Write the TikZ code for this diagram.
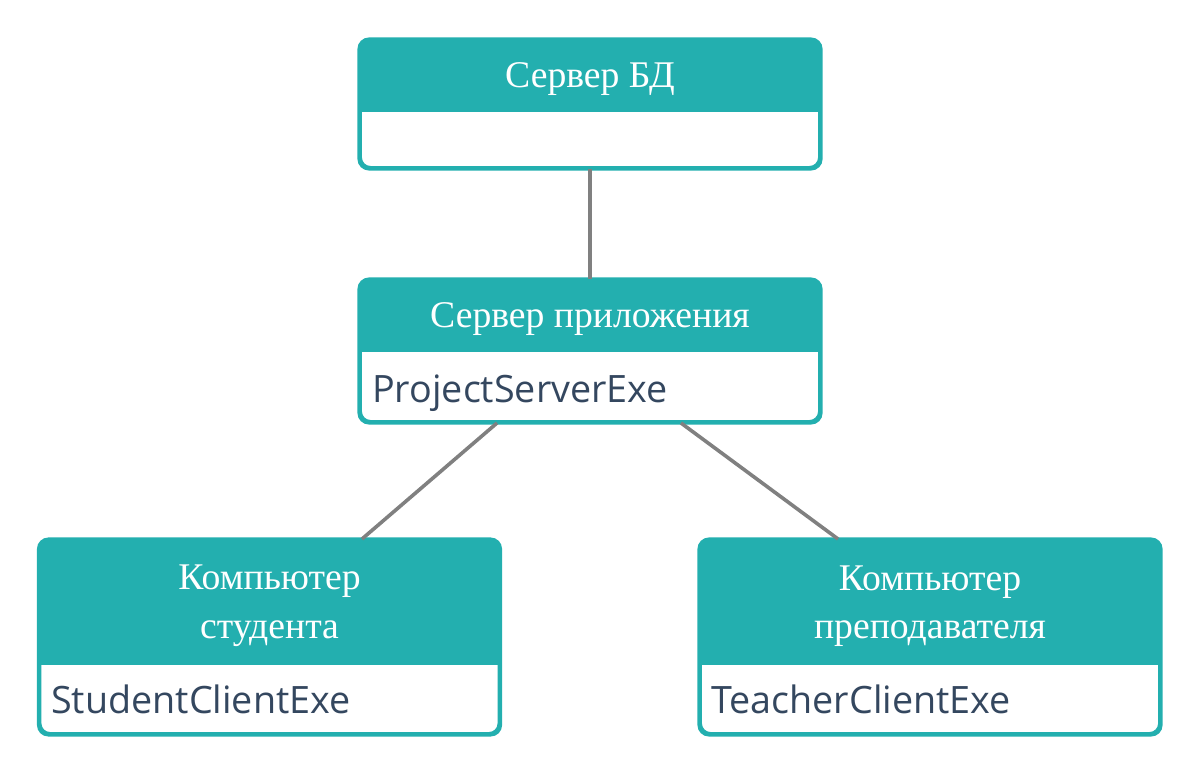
\documentclass[tikz,border=0pt]{standalone}
\usepackage{fontspec}
\setmainfont{Liberation Serif}
\newfontfamily\bodyfont{Open Sans}
\usetikzlibrary{calc}
\definecolor{tealhead}{HTML}{23AFAF}
\definecolor{bodytext}{HTML}{34475F}
\definecolor{linkgray}{HTML}{808080}

\tikzset{
  frame/.style={draw=tealhead,fill=white,line width=0.075cm,rounded corners=0.25cm,
    minimum width=11.475cm,inner sep=0pt},
  head/.style={fill=tealhead,rounded corners=0.25cm,minimum width=11.475cm,inner sep=0pt},
  title/.style={inner sep=0pt,text=white,align=center,font=\fontsize{26.8}{34.7}\selectfont},
  body/.style={inner sep=0pt,anchor=base west,text=bodytext,font=\bodyfont\fontsize{26.8}{32}\selectfont},
  link/.style={draw=linkgray,line width=0.09cm}
}

\begin{document}
\begin{tikzpicture}[x=0.025cm,y=-0.025cm]
  \useasboundingbox (0,0) rectangle (1200,774);

  % boxes
  \node[frame,minimum height=3.175cm] (db)    at (590,104)   {};
  \node[frame,minimum height=3.525cm] (app)   at (590,351)   {};
  \node[frame,minimum height=4.825cm] (stud)  at (269.5,637) {};
  \node[frame,minimum height=4.825cm] (teach) at (930,637)   {};

  % headers
  \node[head,minimum height=1.81cm,anchor=north] (dbh)    at (db.north)    {};
  \node[head,minimum height=1.81cm,anchor=north] (apph)   at (app.north)   {};
  \node[head,minimum height=3.14cm,anchor=north] (studh)  at (stud.north)  {};
  \node[head,minimum height=3.14cm,anchor=north] (teachh) at (teach.north) {};
  \fill[tealhead] ([yshift=0.3cm]dbh.south west) rectangle (dbh.south east);
  \fill[tealhead] ([yshift=0.3cm]apph.south west) rectangle (apph.south east);
  \fill[tealhead] ([yshift=0.3cm]studh.south west) rectangle (studh.south east);
  \fill[tealhead] ([yshift=0.3cm]teachh.south west) rectangle (teachh.south east);
  \draw[draw=tealhead,line width=0.075cm,rounded corners=0.25cm] (db.north west) rectangle (db.south east);
  \draw[draw=tealhead,line width=0.075cm,rounded corners=0.25cm] (app.north west) rectangle (app.south east);
  \draw[draw=tealhead,line width=0.075cm,rounded corners=0.25cm] (stud.north west) rectangle (stud.south east);
  \draw[draw=tealhead,line width=0.075cm,rounded corners=0.25cm] (teach.north west) rectangle (teach.south east);

  % titles
  \node[title] (dbt)    at ([yshift=-0.1cm]dbh.center)    {Сервер БД};
  \node[title] (appt)   at ([yshift=-0.1cm]apph.center)   {Сервер приложения};
  \node[title] (studt)  at ([yshift=-0.1cm]studh.center)  {Компьютер\\студента};
  \node[title] (teacht) at ([yshift=-0.1cm]teachh.center) {Компьютер\\преподавателя};

  % contents
  \node[body] (appx)   at (372,402) {ProjectServerExe};
  \node[body] (studx)  at (51,713)  {StudentClientExe};
  \node[body] (teachx) at (711,713) {TeacherClientExe};

  % links
  \path[link] (db.south) -- (app.north);
  \path[link] ($(app.south)+(-93,0)$) -- ($(stud.north)+(92.5,0)$);
  \path[link] ($(app.south)+(91,0)$) -- ($(teach.north)+(-92,0)$);

\end{tikzpicture}
\end{document}
